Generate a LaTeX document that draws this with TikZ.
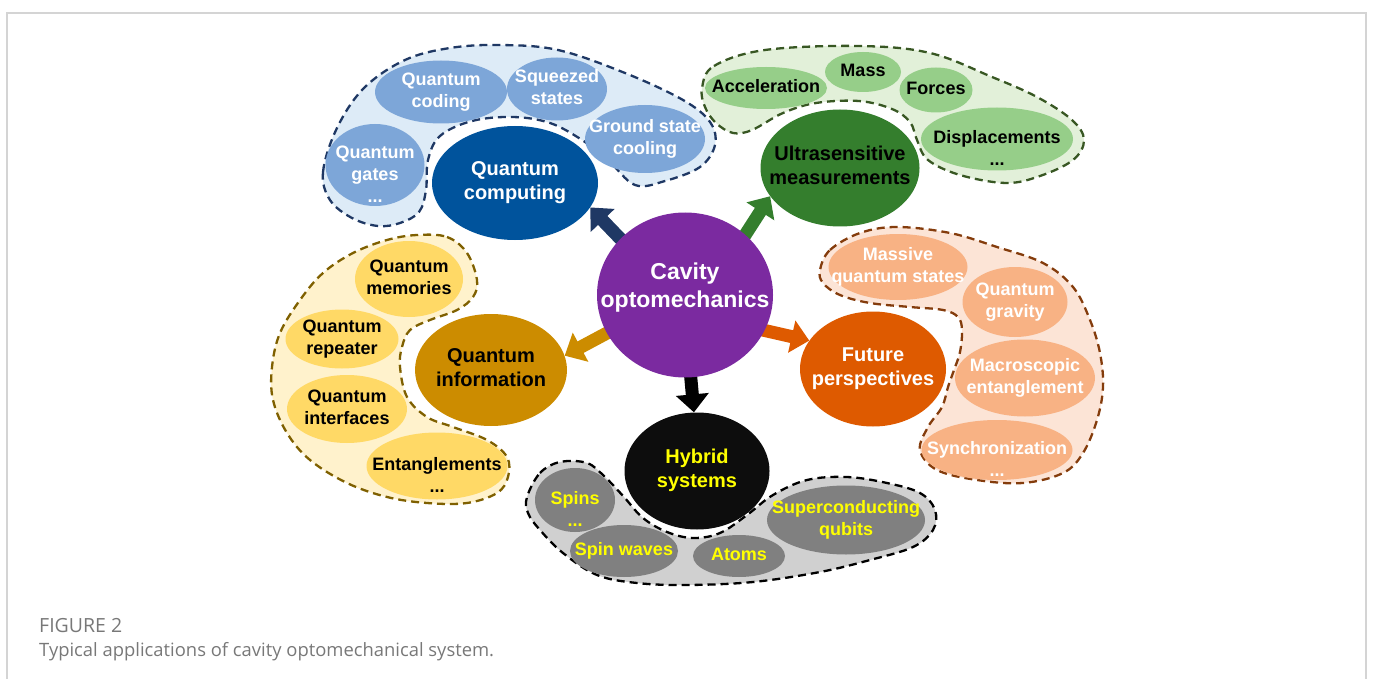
\documentclass[tikz,border=0pt]{standalone}
\usepackage{fontspec}
\setmainfont{Liberation Sans}
\newfontfamily\capfont{Open Sans}
\usetikzlibrary{arrows.meta,shapes.geometric}

\definecolor{cavpurple}{RGB}{123,42,160}
\definecolor{qcblue}{RGB}{0,83,156}
\definecolor{usgreen}{RGB}{52,126,45}
\definecolor{qigold}{RGB}{204,140,0}
\definecolor{fporange}{RGB}{222,90,0}
\definecolor{hyblack}{RGB}{13,13,13}
\definecolor{bluebg}{RGB}{221,235,247}
\definecolor{bluesub}{RGB}{125,166,216}
\definecolor{blueline}{RGB}{31,56,100}
\definecolor{greenbg}{RGB}{226,240,217}
\definecolor{greensub}{RGB}{150,206,137}
\definecolor{greenline}{RGB}{56,87,35}
\definecolor{yellowbg}{RGB}{255,242,204}
\definecolor{yellowsub}{RGB}{255,217,102}
\definecolor{yellowline}{RGB}{127,96,0}
\definecolor{graybg}{RGB}{208,208,208}
\definecolor{graysub}{RGB}{128,128,128}
\definecolor{orangebg}{RGB}{252,228,214}
\definecolor{orangesub}{RGB}{248,178,132}
\definecolor{orangeline}{RGB}{132,60,12}
\definecolor{hyyellow}{RGB}{255,255,0}
\definecolor{framegray}{RGB}{212,212,212}
\definecolor{capgray}{RGB}{120,120,120}

\pgfdeclarelayer{back}
\pgfsetlayers{back,main}

% text block that does not change the size of the ellipse
\newcommand{\lbl}[1]{\smash{\raisebox{-.25em}{\makebox[0pt]{\begin{tabular}{@{}c@{}}#1\end{tabular}}}}}
% same, with the trailing dots hanging below the centre
\newcommand{\lbld}[1]{\smash{\raisebox{-15.5pt}{\makebox[0pt]{\begin{tabular}{@{}c@{}}#1\end{tabular}}}}}

\begin{document}
\begin{tikzpicture}[x=1pt,y=-1pt,
    sz/.style 2 args={minimum width=#1pt, minimum height=#2pt},
    hub/.style={ellipse, inner sep=0pt, font=\bfseries\fontsize{20}{24}\selectfont},
    leaf/.style={ellipse, inner sep=0pt, font=\bfseries\fontsize{18}{22}\selectfont},
    cloud/.style={line width=2.3pt, dash pattern=on 8pt off 5pt},
    push/.style={line width=13pt, shorten <=-8pt, -{Triangle[length=18pt,width=32pt]}}]
  \useasboundingbox (0,0) rectangle (1373,679);
  \draw[framegray, line width=1.2pt] (7,679) -- (7,13) -- (1366,13) -- (1366,679);

  % groups
  \draw[cloud, blueline, fill=bluebg] plot[smooth cycle, tension=0.6] coordinates {
    (330,200) (323,172) (337,128) (364,88) (405,60) (450,48) (500,45) (558,50)
    (625,73) (683,100) (710,122) (715,145) (700,167) (665,181) (635,185) (608,160)
    (582,140) (550,123) (513,117) (472,121) (440,136) (428,160) (426,190) (419,212)
    (400,223) (378,226) (352,218)};
  \draw[cloud, greenline, fill=greenbg] plot[smooth cycle, tension=0.6] coordinates {
    (702,88) (714,66) (765,50) (859,46) (930,53) (992,77) (1037,97) (1072,120)
    (1084,140) (1073,160) (1040,176) (1006,183) (960,175) (928,160) (917,140)
    (910,122) (892,109) (859,101) (816,103) (783,113) (752,130) (733,133) (716,123)
    (705,107)};
  \draw[cloud, yellowline, fill=yellowbg] plot[smooth cycle, tension=0.6] coordinates {
    (417,235) (447,237) (467,253) (477,280) (473,297) (457,310) (430,320) (410,330)
    (402,347) (400,367) (407,397) (427,417) (453,427) (487,440) (507,457) (508,477)
    (497,493) (467,503) (427,503) (387,497) (347,483) (310,460) (287,433) (273,400)
    (272,367) (280,333) (300,300) (323,273) (353,253) (387,240)};
  \draw[cloud, orangeline, fill=orangebg] plot[smooth cycle, tension=0.6] coordinates {
    (820,270) (830,250) (860,233) (897,227) (950,233) (997,247) (1043,263) (1073,287)
    (1090,320) (1100,353) (1103,387) (1097,420) (1083,453) (1063,473) (1023,483)
    (977,480) (937,470) (920,450) (928,427) (942,407) (948,387) (954,370) (960,352)
    (962,330) (958,317) (943,310) (910,307) (870,303) (840,295) (823,283)};
  \draw[cloud, black, fill=graybg] plot[smooth cycle, tension=0.6] coordinates {
    (527,497) (540,473) (560,462) (587,463) (605,477) (624,497) (643,518) (667,532)
    (693,538) (720,533) (747,515) (773,495) (807,480) (847,477) (887,483) (920,493)
    (935,510) (933,530) (913,547) (870,560) (820,572) (753,582) (687,585) (637,583)
    (597,575) (563,553) (540,530) (528,513)};

  % sub topics
  \node[leaf, sz={132}{63}, fill=bluesub, text=white] (qcod) at (441,92) {\lbl{Quantum\\coding}};
  \node[leaf, sz={100}{63}, fill=bluesub, text=white] (sqz) at (557,89) {\lbl{Squeezed\\states}};
  \node[leaf, sz={120}{68}, fill=bluesub, text=white] (gsc) at (645,139) {\lbl{Ground state\\cooling}};
  \node[leaf, sz={99}{82}, fill=bluesub, text=white] (qgat) at (375,165) {\lbld{Quantum\\gates\\...}};

  \node[leaf, sz={122}{42}, fill=greensub] (acc) at (766,88) {\lbl{Acceleration}};
  \node[leaf, sz={76}{40}, fill=greensub] (mass) at (863,72) {\lbl{Mass}};
  \node[leaf, sz={73}{45}, fill=greensub] (frc) at (936,90) {\lbl{Forces}};
  \node[leaf, sz={152}{63}, fill=greensub] (disp) at (997,139) {\lbld{Displacements\\...}};

  \node[leaf, sz={108}{76}, fill=yellowsub] (qmem) at (409,279) {\lbl{Quantum\\memories}};
  \node[leaf, sz={113}{59}, fill=yellowsub] (qrep) at (342,339) {\lbl{Quantum\\repeater}};
  \node[leaf, sz={120}{68}, fill=yellowsub] (qint) at (347,409) {\lbl{Quantum\\interfaces}};
  \node[leaf, sz={141}{67}, fill=yellowsub] (ent) at (437,466) {\lbld{Entanglements\\...}};

  \node[leaf, sz={139}{66}, fill=orangesub, text=white] (mqs) at (898,267) {\lbl{Massive\\quantum states}};
  \node[leaf, sz={105}{70}, fill=orangesub, text=white] (qgr) at (1015,302) {\lbl{Quantum\\gravity}};
  \node[leaf, sz={140}{77}, fill=orangesub, text=white] (mac) at (1025,378) {\lbl{Macroscopic\\entanglement}};
  \node[leaf, sz={151}{60}, fill=orangesub, text=white] (syn) at (997,450) {\lbld{Synchronization\\...}};

  \node[leaf, sz={80}{64}, fill=graysub, text=hyyellow] (spin) at (575,500) {\lbld{Spins\\...}};
  \node[leaf, sz={108}{52}, fill=graysub, text=hyyellow] (swav) at (624,551) {\lbl{Spin waves}};
  \node[leaf, sz={92}{42}, fill=graysub, text=hyyellow] (atom) at (739,556) {\lbl{Atoms}};
  \node[leaf, sz={158}{69}, fill=graysub, text=hyyellow] (scq) at (846,520) {\lbl{Superconducting\\qubits}};

  % main topics
  \node[hub, sz={176}{165}, fill=cavpurple, text=white, font=\bfseries\fontsize{23}{28}\selectfont] (cav) at (685,295) {\raisebox{13pt}{\lbl{Cavity\\optomechanics}}};
  \node[hub, sz={166}{114}, fill=qcblue, text=white] (qc) at (515,183) {\lbl{Quantum\\computing}};
  \node[hub, sz={159}{117}, fill=usgreen] (us) at (840,168) {\lbl{Ultrasensitive\\measurements}};
  \node[hub, sz={152}{112}, fill=qigold] (qi) at (491,370) {\lbl{Quantum\\information}};
  \node[hub, sz={146}{115}, fill=fporange, text=white] (fp) at (873,369) {\lbl{Future\\perspectives}};
  \node[hub, sz={145}{117}, fill=hyblack, text=hyyellow] (hyb) at (697,471) {\lbl{Hybrid\\systems}};

  \begin{pgfonlayer}{back}
    \draw[push, blueline] (cav.139) -- (qc.-18);
    \draw[push, usgreen] (cav.45) -- (us.202);
    \draw[push, qigold] (cav.206) -- (qi.11);
    \draw[push, fporange] (cav.-24) -- (fp.156);
    \draw[push, black] (cav.-86) -- (hyb.93);
  \end{pgfonlayer}

  % caption
  \node[anchor=base west, inner sep=0pt, text=capgray, font=\capfont\fontsize{19.5}{21}\selectfont] (fig) at (39,632) {FIGURE 2};
  \node[anchor=base west, inner sep=0pt, text=capgray, font=\capfont\fontsize{18.4}{21}\selectfont] (cap) at (39,656) {Typical applications of cavity optomechanical system.};
\end{tikzpicture}
\end{document}
